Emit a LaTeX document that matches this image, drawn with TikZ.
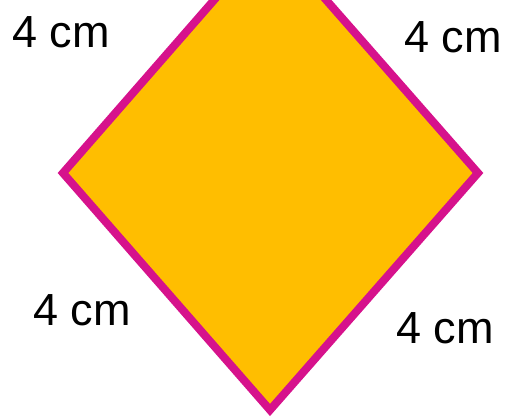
\documentclass[tikz,border=0pt]{standalone}
\usepackage{fontspec}
\setmainfont{Liberation Sans}
\usetikzlibrary{positioning}
\definecolor{rhombfill}{RGB}{255,190,0}
\definecolor{rhombedge}{RGB}{214,18,140}

\begin{document}
\begin{tikzpicture}[
  x=1pt,y=-1pt,
  side/.style={font=\fontsize{45}{45}\selectfont,anchor=base,inner sep=0pt},
  rhomb/.style={fill=rhombfill,draw=rhombedge,line width=8pt,line join=miter}
]
  \useasboundingbox (0,0) rectangle (509,417);

  % Ecken der Raute
  \coordinate (top)    at (270,-64);
  \coordinate (left)   at (63,173);
  \coordinate (bottom) at (270,410);
  \coordinate (right)  at (478,173);

  \begin{scope}
    \clip (0,0) rectangle (509,417);
    \draw[rhomb] (top) -- (left) -- (bottom) -- (right) -- cycle;
  \end{scope}

  % Seitenlaengen
  \node[side] (tl) at (61,48)  {4 cm};
  \node[side] (tr) at (453,53) {4 cm};
  \node[side] (bl) at (82,325) {4 cm};
  \node[side] (br) at (445,343) {4 cm};
\end{tikzpicture}
\end{document}
